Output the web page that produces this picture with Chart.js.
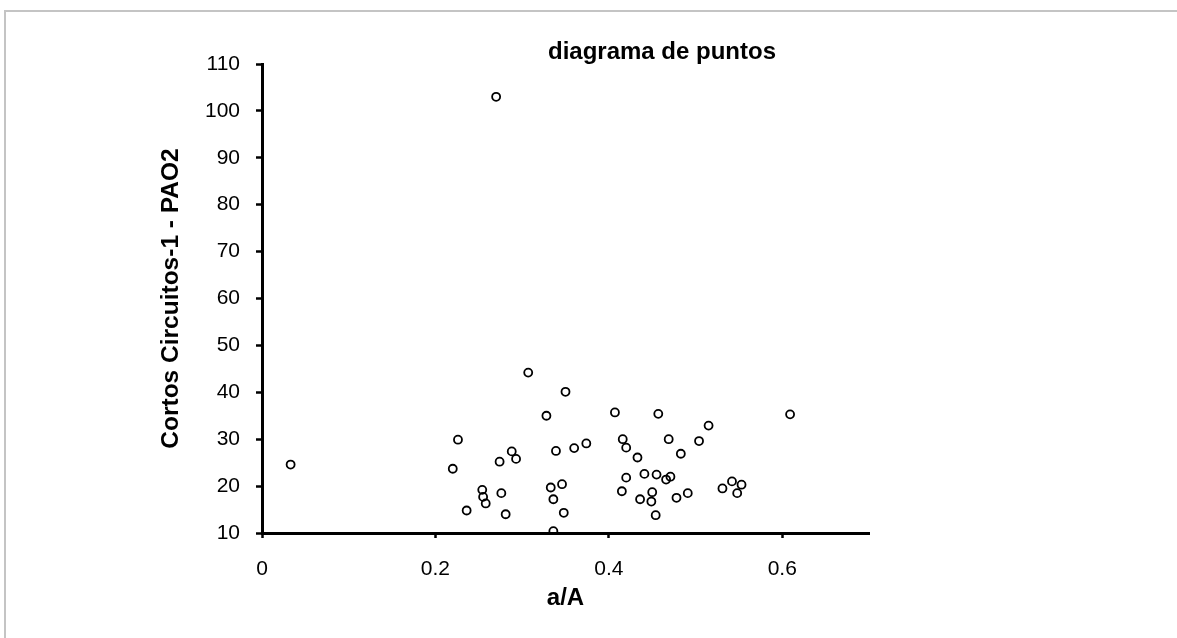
<!DOCTYPE html>
<html><head><meta charset="utf-8">
<script src="https://cdn.jsdelivr.net/npm/chart.js@4.4.0/dist/chart.umd.min.js"></script>
<style>
html,body{margin:0;padding:0;background:#fff;overflow:hidden;}
#frame{position:absolute;left:4px;top:10px;width:1300px;height:700px;border-top:2px solid #c4c4c4;border-left:2px solid #c4c4c4;box-sizing:border-box;}
#wrap{position:absolute;left:0;top:0;width:1177px;height:638px;}
</style></head><body>
<div id="frame"></div>
<div id="wrap"><canvas id="c" width="1177" height="638"></canvas></div>
<script>
const chartTitle = 'diagrama de puntos';
const xAxisTitle = 'a/A';
const yAxisTitle = 'Cortos Circuitos-1 - PAO2';
const xValues = [0.033, 0.226, 0.220, 0.236, 0.254, 0.255, 0.258, 0.276, 0.274, 0.288,
                 0.293, 0.281, 0.270, 0.307, 0.328, 0.350, 0.339, 0.360, 0.374, 0.333,
                 0.346, 0.336, 0.348, 0.336, 0.407, 0.416, 0.420, 0.433, 0.420, 0.441,
                 0.455, 0.415, 0.436, 0.450, 0.449, 0.454, 0.457, 0.515, 0.469, 0.504,
                 0.483, 0.471, 0.466, 0.478, 0.491, 0.531, 0.542, 0.553, 0.548, 0.609];
const yValues = [24.6, 29.9, 23.7, 14.8, 19.2, 17.7, 16.3, 18.5, 25.2, 27.4,
                 25.8, 14.0, 103.0, 44.2, 35.0, 40.1, 27.5, 28.1, 29.1, 19.7,
                 20.4, 17.2, 14.3, 10.4, 35.7, 30.0, 28.2, 26.1, 21.8, 22.6,
                 22.45, 18.9, 17.2, 18.7, 16.7, 13.8, 35.4, 32.9, 30.0, 29.6,
                 26.9, 22.0, 21.4, 17.5, 18.5, 19.5, 21.0, 20.3, 18.5, 35.3];
const xTickValues = [0, 0.2, 0.4, 0.6];
const yTickValues = [10, 20, 30, 40, 50, 60, 70, 80, 90, 100, 110];

const FONT = '"Liberation Sans", Arial, sans-serif';
const points = xValues.map((x, i) => ({x: x, y: yValues[i]}));

const titlePlugin = {
  id: 'customTitle',
  afterDraw(chart) {
    const ctx = chart.ctx;
    ctx.save();
    ctx.font = 'bold 24px ' + FONT;
    ctx.fillStyle = '#000';
    ctx.textAlign = 'center';
    ctx.textBaseline = 'middle';
    ctx.fillText(chartTitle, 662, 52);
    ctx.restore();
  }
};

new Chart(document.getElementById('c'), {
  type: 'scatter',
  data: {
    datasets: [{
      data: points,
      pointStyle: 'circle',
      pointRadius: 4,
      pointBorderWidth: 1.8,
      pointBorderColor: '#000',
      pointBackgroundColor: 'rgba(255,255,255,0)',
      showLine: false
    }]
  },
  options: {
    responsive: false,
    animation: false,
    events: [],
    layout: { padding: { left: 0, top: 64, right: 308, bottom: 0 } },
    plugins: { legend: { display: false }, title: { display: false }, tooltip: { enabled: false } },
    scales: {
      x: {
        type: 'linear',
        min: 0, max: 0.7,
        afterBuildTicks: s => { s.ticks = xTickValues.map(v => ({value: v})); },
        afterFit: s => { s.height = 105; },
        grid: { drawOnChartArea: false, drawTicks: true, tickLength: 5, tickWidth: 2.5, tickColor: '#000' },
        border: { display: true, color: '#000', width: 3 },
        ticks: { color: '#000', font: { family: FONT, size: 21 }, padding: 19, maxRotation: 0,
                 callback: v => String(v) },
        title: { display: true, text: xAxisTitle, color: '#000', font: { family: FONT, size: 24, weight: 'bold' },
                 padding: { top: 0, bottom: 25 } }
      },
      y: {
        type: 'linear',
        min: 10, max: 110,
        afterBuildTicks: s => { s.ticks = yTickValues.map(v => ({value: v})); },
        afterFit: s => { s.width = 262; },
        grid: { drawOnChartArea: false, drawTicks: true, tickLength: 6, tickWidth: 2.5, tickColor: '#000' },
        border: { display: true, color: '#000', width: 3 },
        ticks: { color: '#000', font: { family: FONT, size: 21 }, padding: 16,
                 callback: v => String(v) },
        title: { display: true, text: yAxisTitle, color: '#000', font: { family: FONT, size: 24.5, weight: 'bold' },
                 padding: { top: 157, bottom: 0 } }
      }
    }
  },
  plugins: [titlePlugin]
});
</script>
</body></html>
